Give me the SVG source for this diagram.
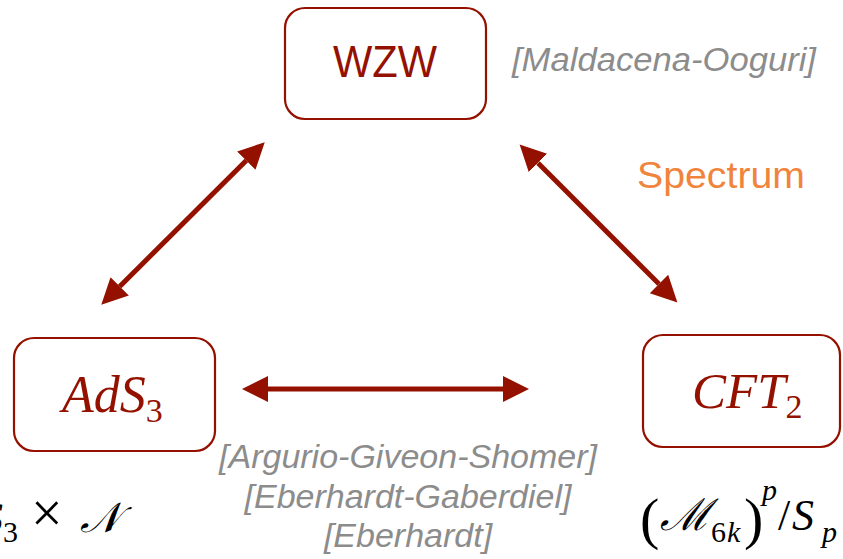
<svg xmlns="http://www.w3.org/2000/svg" width="843" height="559" viewBox="0 0 843 559">
<style>
.box{fill:#fff;stroke:#941100;stroke-width:2.2}
.lbl{font-family:"Liberation Sans",Arial,sans-serif;fill:#941100;font-size:44px;text-anchor:middle}
.math{font-family:"Liberation Serif","Times New Roman",serif;font-style:italic;fill:#941100}
.cite{font-family:"Liberation Sans",Arial,sans-serif;font-style:italic;fill:#8c8c8c;font-size:34px;text-anchor:middle}
.blk{font-family:"Liberation Serif","Times New Roman",serif;fill:#000}
.conn{stroke:#941100;stroke-width:5;fill:none;marker-start:url(#ah);marker-end:url(#ah)}
</style>
<defs>
<marker id="ah" markerUnits="userSpaceOnUse" markerWidth="30" markerHeight="30" viewBox="0 -15 30 30" refX="0" refY="0" orient="auto-start-reverse">
<path d="M0,-13 L26,0 L0,13 z" fill="#941100"/>
</marker>
</defs>
<g id="connectors">
<line class="conn" x1="246.3" y1="160.6" x2="119.7" y2="286.4"/>
<line class="conn" x1="538" y1="163" x2="659" y2="284"/>
<line class="conn" x1="268" y1="389" x2="503" y2="389"/>
</g>
<g id="wzw">
<rect class="box" x="285" y="8" width="201" height="111" rx="20"/>
<text class="lbl" x="385" y="77" textLength="104" lengthAdjust="spacingAndGlyphs">WZW</text>
</g>
<g id="ads3">
<rect class="box" x="14" y="338" width="201" height="113" rx="20"/>
<text class="math" x="62" y="412" font-size="52">AdS<tspan font-size="34" font-style="normal" dy="10">3</tspan></text>
</g>
<g id="cft2">
<rect class="box" x="643" y="335" width="197" height="112" rx="20"/>
<text class="math" x="692" y="408" font-size="51">CFT<tspan font-size="34" font-style="normal" dy="10">2</tspan></text>
</g>
<g id="labels">
<text class="cite" x="664" y="71" textLength="304" lengthAdjust="spacingAndGlyphs">[Maldacena-Ooguri]</text>
<text x="721" y="188" font-family="Liberation Sans,Arial,sans-serif" font-size="37" fill="#f0843c" text-anchor="middle" textLength="168" lengthAdjust="spacingAndGlyphs">Spectrum</text>
<text class="cite" x="408" y="468">[Argurio-Giveon-Shomer]</text>
<text class="cite" x="408" y="508">[Eberhardt-Gaberdiel]</text>
<text class="cite" x="408" y="547">[Eberhardt]</text>
</g>
<g id="bottom-left">
<text class="blk" x="-18" y="532" font-size="42"><tspan font-style="italic">S</tspan><tspan font-size="30" dy="10">3</tspan><tspan x="31" dy="-10" font-size="56">×</tspan><tspan x="80" font-style="italic">𝒩</tspan></text>
</g>
<g id="bottom-right">
<text class="blk" font-size="44"><tspan x="640" y="538" font-size="58">(</tspan><tspan x="660" y="530" font-style="italic">ℳ</tspan><tspan x="711" y="542" font-size="30">6</tspan><tspan x="727" y="542" font-size="30" font-style="italic">k</tspan><tspan x="744" y="538" font-size="58">)</tspan><tspan x="762" y="500" font-size="30" font-style="italic">p</tspan><tspan x="778" y="530">/</tspan><tspan x="792" y="530" font-style="italic">S</tspan><tspan x="822" y="542" font-size="30" font-style="italic">p</tspan></text>
</g>
</svg>
